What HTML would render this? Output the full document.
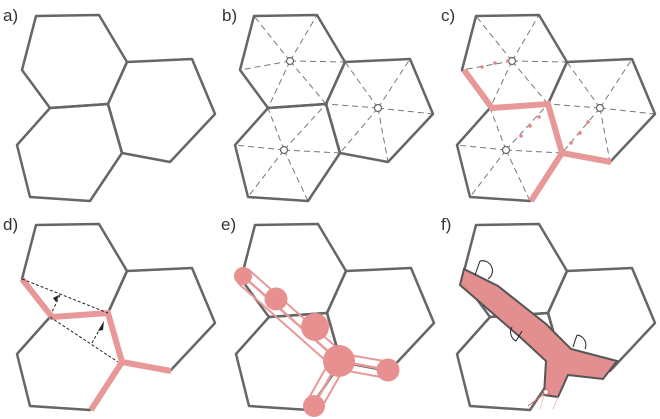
<!DOCTYPE html>
<html><head><style>
html,body{margin:0;padding:0;background:#fff;}
svg{display:block}
text{font-family:"Liberation Sans",sans-serif;font-size:17px;fill:#333}
</style></head><body>
<svg width="660" height="419" viewBox="0 0 660 419" xmlns="http://www.w3.org/2000/svg">
<defs>
<g id="hex" fill="none" stroke="#666" stroke-width="2.5" stroke-linejoin="round">
<polygon points="36,16 99,15 127,62 108,104 50,108 22,70"/>
<polygon points="127,62 192,59 215,114 170,162 122,153 108,104"/>
<polygon points="50,108 17,145 30,197 90,201 122,153 108,104"/>
</g>
<g id="spokes" fill="none" stroke="#777" stroke-width="1" stroke-dasharray="6,4">
<path d="M72,61 L36,16 M72,61 L99,15 M72,61 L127,62 M72,61 L108,104 M72,61 L50,108 M72,61 L22,70"/>
<path d="M160,108 L127,62 M160,108 L192,59 M160,108 L215,114 M160,108 L170,162 M160,108 L122,153 M160,108 L108,104"/>
<path d="M66,150 L50,108 M66,150 L17,145 M66,150 L30,197 M66,150 L90,201 M66,150 L122,153 M66,150 L108,104"/>
</g>
<g id="ctr" fill="#fff" stroke="#666" stroke-width="1.2">
<circle cx="72" cy="61" r="3.5"/><circle cx="160" cy="108" r="3.5"/><circle cx="66" cy="150" r="3.5"/>
</g>
</defs>
<text x="3" y="21">a)</text>
<use href="#hex" x="0" y="0"/>
<text x="222" y="21">b)</text>
<g transform="translate(218,0)"><use href="#spokes"/><use href="#hex"/><use href="#ctr"/></g>
<text x="441" y="21">c)</text>
<g transform="translate(440,0)">
<use href="#spokes"/><use href="#hex"/>
<polyline points="24,70 52,108 108,104 122,153 171,162" fill="none" stroke="#e89898" stroke-width="6"/>
<line x1="122" y1="153" x2="91" y2="201" stroke="#e89898" stroke-width="6"/>
<use href="#ctr"/>
<g fill="#d88">
<circle cx="42" cy="67" r="1.8"/><circle cx="55" cy="63" r="1.8"/><circle cx="68" cy="61" r="1.8"/>
<circle cx="99" cy="117" r="1.8"/><circle cx="90" cy="126" r="1.8"/><circle cx="81" cy="136" r="1.8"/>
<circle cx="148" cy="122" r="1.8"/><circle cx="140" cy="133" r="1.8"/><circle cx="131" cy="143" r="1.8"/>
</g>
</g>
<text x="3" y="230">d)</text>
<g transform="translate(0,209)">
<use href="#hex"/>
<polyline points="22,70 52,108 108,104 122,153 171,162" fill="none" stroke="#e89898" stroke-width="6"/>
<line x1="122" y1="153" x2="91" y2="201" stroke="#e89898" stroke-width="6"/>
<g stroke="#222" stroke-width="1" stroke-dasharray="3,2" fill="none">
<line x1="22" y1="70" x2="108" y2="104"/>
<line x1="50" y1="108" x2="118" y2="153"/>
<line x1="60" y1="86" x2="52" y2="103"/>
<line x1="92" y1="134" x2="102" y2="116"/>
</g>
<path d="M56,93 L59,86 L53,89 Z M98,122 L104,112 L103,121 Z" fill="#222"/>
</g>
<text x="221" y="230">e)</text>
<g transform="translate(219,209)">
<use href="#hex"/>
<g stroke="#e89898" stroke-width="2" fill="none">
<path d="M19,74 L115,159 M29,60 L125,145 M118,144 L171,153 M118,160 L167,169 M112,150 L87,194 M128,154 L103,198"/>
</g>
<g stroke="#e89898" stroke-width="2.5" fill="none"><path d="M24,67 L120,152 L169,161 M120,152 L95,196"/></g>
<g fill="#e89090">
<circle cx="24" cy="67" r="9"/><circle cx="57" cy="90" r="11.5"/><circle cx="96" cy="118" r="14"/>
<circle cx="120" cy="152" r="16"/><circle cx="169" cy="161" r="11.5"/><circle cx="95" cy="197" r="11"/>
</g>
</g>
<text x="441" y="230">f)</text>
<g transform="translate(440,209)">
<use href="#hex"/>
<polygon points="24,60 58,77 106,115 131,140 177,152 163,170 128,166 118,188 104,186 106,152 80,128 20,76" fill="#e48f8f" stroke="#555" stroke-width="2"/>
<g fill="none" stroke="#222" stroke-width="1">
<path d="M40,52 L35,66 M40,52 A10,10 0 0 1 48,70"/>
<path d="M76,132 L82,122 M76,132 A10,10 0 0 1 72,118"/>
<path d="M133,138 L137,126 M137,126 A10,10 0 0 1 145,140"/>
</g>
<path d="M104,186 L100,200 M118,188 L113,200" stroke="#f3c4c4" stroke-width="1" fill="none"/>
<circle cx="106" cy="183" r="2.5" fill="#fff" stroke="#c66" stroke-width="1"/>
<line x1="104" y1="185" x2="88" y2="197" stroke="#c66" stroke-width="1"/>
</g>
</svg>
</body></html>
